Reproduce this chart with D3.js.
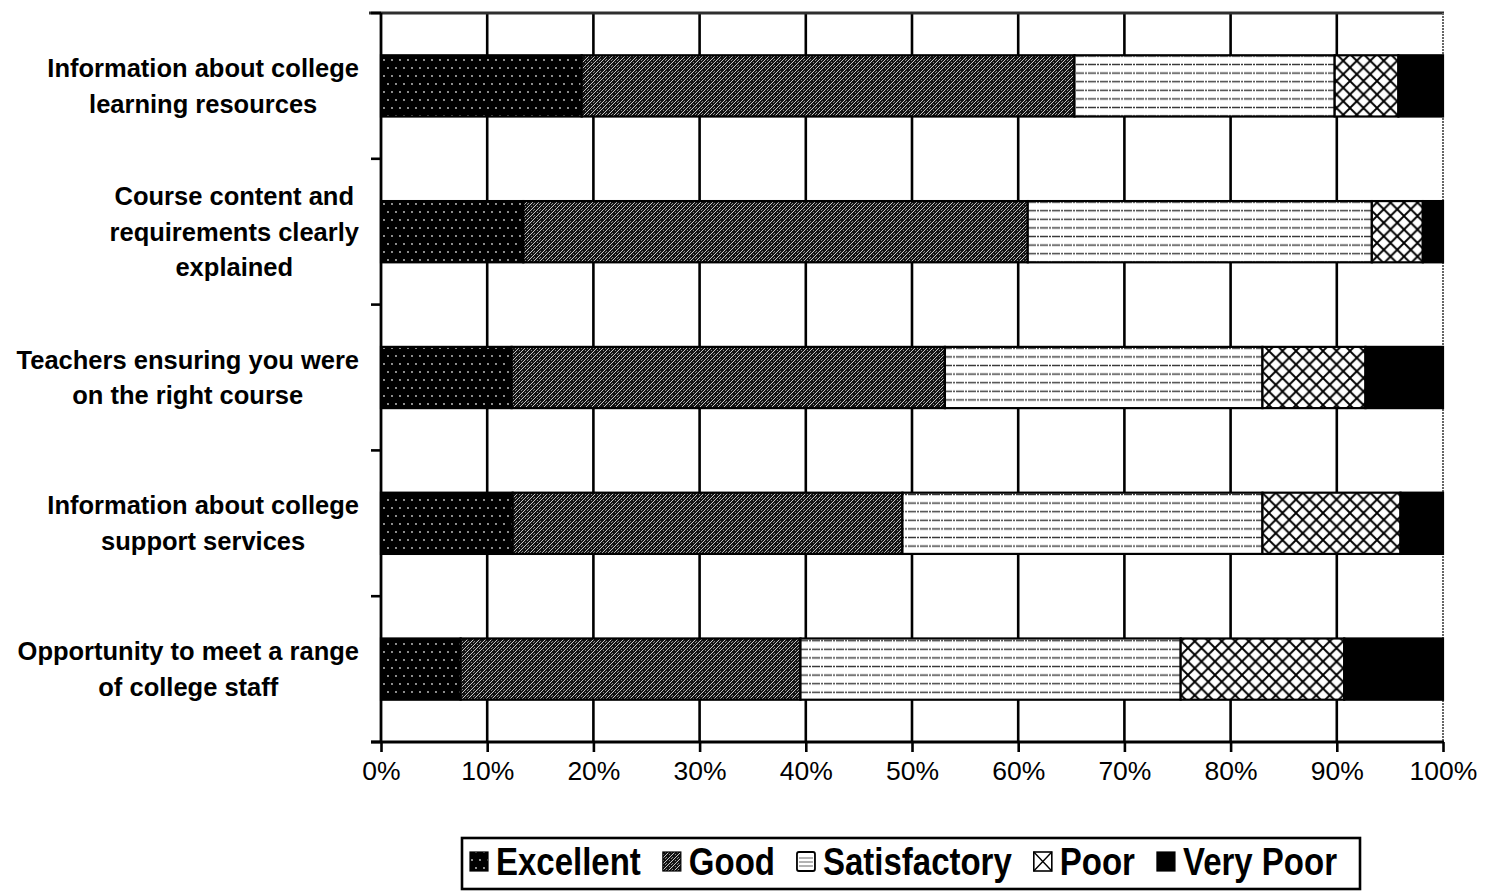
<!DOCTYPE html>
<html>
<head>
<meta charset="utf-8">
<script src="https://cdn.jsdelivr.net/npm/d3@7/dist/d3.min.js"></script>
<style>
  html, body { margin: 0; padding: 0; background: #fff; }
  svg { display: block; }
  text { font-family: "Liberation Sans", Arial, sans-serif; fill: #000; }
</style>
</head>
<body>
<svg id="chart" width="1488" height="892"></svg>
<script>
// Survey items, top to bottom
const categories = [
  "Information about college learning resources",
  "Course content and requirements clearly explained",
  "Teachers ensuring you were on the right course",
  "Information about college support services",
  "Opportunity to meet a range of college staff"
];
const categoryLines = [
  ["Information about college", "learning resources"],
  ["Course content and", "requirements clearly", "explained"],
  ["Teachers ensuring you were", "on the right course"],
  ["Information about college", "support services"],
  ["Opportunity to meet a range", "of college staff"]
];
const ratings = ["Excellent", "Good", "Satisfactory", "Poor", "Very Poor"];

// Percentage of responses per rating, one value per item
const excellent    = [18.9, 13.4, 12.3, 12.4, 7.5];
const good         = [46.4, 47.5, 40.8, 36.7, 32.0];
const satisfactory = [24.5, 32.4, 29.9, 33.9, 35.8];
const poor         = [6.0, 4.8, 9.7, 13.0, 15.4];
const veryPoor     = [4.2, 1.9, 7.3, 4.0, 9.3];

const xTicks = [0, 10, 20, 30, 40, 50, 60, 70, 80, 90, 100];

const rows = categories.map((c, i) => ({
  category: c,
  "Excellent": excellent[i],
  "Good": good[i],
  "Satisfactory": satisfactory[i],
  "Poor": poor[i],
  "Very Poor": veryPoor[i]
}));

const svg = d3.select("#chart");
const plot = { left: 381, right: 1443, top: 13, bottom: 742 };

const x = d3.scaleLinear().domain([0, 100]).range([plot.left, plot.right]);
const y = d3.scaleBand().domain(categories).range([plot.top, plot.bottom])
  .paddingInner(0.58).paddingOuter(0.29);

// ---- fill patterns ----
const defs = svg.append("defs");

// Excellent: black with small white dots
const pExc = defs.append("pattern").attr("id", "pat-exc")
  .attr("patternUnits", "userSpaceOnUse").attr("width", 16).attr("height", 16);
pExc.append("rect").attr("width", 16).attr("height", 16).attr("fill", "#000");
[[4, 4], [12, 4], [0, 12], [8, 12], [16, 12]].forEach(([cx, cy]) =>
  pExc.append("circle").attr("cx", cx).attr("cy", cy).attr("r", 0.9).attr("fill", "#cfcfcf"));

// Good: fine dark diagonal dither
const pGood = defs.append("pattern").attr("id", "pat-good")
  .attr("patternUnits", "userSpaceOnUse").attr("width", 6).attr("height", 6);
pGood.append("rect").attr("width", 6).attr("height", 6).attr("fill", "#141414");
[[0, 2], [1, 1], [2, 0], [3, 5], [4, 4], [5, 3], [0, 5], [3, 2], [5, 0]].forEach(([px, py], k) =>
  pGood.append("rect").attr("x", px).attr("y", py).attr("width", 1).attr("height", 1)
    .attr("fill", k < 6 ? "#c8c8c8" : "#8a8a8a"));

// Satisfactory: white with thin broken horizontal lines
const pSat = defs.append("pattern").attr("id", "pat-sat")
  .attr("patternUnits", "userSpaceOnUse").attr("width", 12).attr("height", 8.6);
pSat.append("rect").attr("width", 12).attr("height", 8.6).attr("fill", "#fff");
pSat.append("line").attr("x1", 0).attr("x2", 12).attr("y1", 4.3).attr("y2", 4.3)
  .attr("stroke", "#3a3a3a").attr("stroke-width", 1.2).attr("stroke-dasharray", "4 1 2 1");

// Poor: diamond crosshatch
const cw = 13.5;
const pPoor = defs.append("pattern").attr("id", "pat-poor")
  .attr("patternUnits", "userSpaceOnUse").attr("width", cw).attr("height", cw);
pPoor.append("rect").attr("width", cw).attr("height", cw).attr("fill", "#fff");
pPoor.append("line").attr("x1", -1).attr("y1", -1).attr("x2", cw + 1).attr("y2", cw + 1)
  .attr("stroke", "#000").attr("stroke-width", 1.9);
pPoor.append("line").attr("x1", cw + 1).attr("y1", -1).attr("x2", -1).attr("y2", cw + 1)
  .attr("stroke", "#000").attr("stroke-width", 1.9);

const fills = {
  "Excellent": "url(#pat-exc)",
  "Good": "url(#pat-good)",
  "Satisfactory": "url(#pat-sat)",
  "Poor": "url(#pat-poor)",
  "Very Poor": "#000"
};

// ---- grid and frame ----
const grid = svg.append("g");
grid.selectAll("line.grid")
  .data(xTicks.filter(t => t > 0 && t < 100))
  .join("line")
  .attr("x1", d => x(d)).attr("x2", d => x(d))
  .attr("y1", plot.top).attr("y2", plot.bottom)
  .attr("stroke", "#000").attr("stroke-width", 2.6);

// top and right plot-area border
grid.append("line")
  .attr("x1", plot.left - 12).attr("x2", plot.right + 1)
  .attr("y1", plot.top).attr("y2", plot.top)
  .attr("stroke", "#2e2e2e").attr("stroke-width", 3);
grid.append("line")
  .attr("x1", plot.right).attr("x2", plot.right)
  .attr("y1", plot.top).attr("y2", plot.bottom)
  .attr("stroke", "#666").attr("stroke-width", 2).attr("stroke-dasharray", "2 1");

// ---- stacked bars ----
const stack = d3.stack().keys(ratings);
const series = stack(rows);

svg.append("g").selectAll("g")
  .data(series)
  .join("g")
  .attr("fill", d => fills[d.key])
  .selectAll("rect")
  .data(d => d)
  .join("rect")
  .attr("x", d => x(d[0]))
  .attr("width", d => x(d[1]) - x(d[0]))
  .attr("y", d => y(d.data.category))
  .attr("height", y.bandwidth())
  .attr("stroke", "#000")
  .attr("stroke-width", 2.2);

// ---- axes ----
const xAxis = svg.append("g")
  .attr("transform", `translate(0,${plot.bottom})`)
  .call(d3.axisBottom(x).tickValues(xTicks).tickSize(10).tickSizeOuter(0)
    .tickFormat(d => d + "%"));
xAxis.select(".domain").remove();
xAxis.selectAll(".tick line").attr("stroke", "#000").attr("stroke-width", 2.6);
xAxis.selectAll(".tick text")
  .attr("y", 38).attr("dy", 0)
  .style("font-size", "26.5px").style("font-family", "'Liberation Sans', Arial, sans-serif")
  .attr("fill", "#000");

svg.append("line")
  .attr("x1", plot.left - 10).attr("x2", plot.right + 1)
  .attr("y1", plot.bottom).attr("y2", plot.bottom)
  .attr("stroke", "#000").attr("stroke-width", 2.8);

// left axis with ticks on category boundaries
const step = y.step();
const boundaries = d3.range(categories.length + 1).map(i => plot.top + i * step);
svg.append("line")
  .attr("x1", plot.left).attr("x2", plot.left)
  .attr("y1", plot.top).attr("y2", plot.bottom)
  .attr("stroke", "#000").attr("stroke-width", 2.8);
svg.append("g").selectAll("line")
  .data(boundaries)
  .join("line")
  .attr("x1", plot.left - 10).attr("x2", plot.left)
  .attr("y1", d => d).attr("y2", d => d)
  .attr("stroke", "#000").attr("stroke-width", 2.6);

// category labels: block right-aligned, lines centred within block
const lineH = 35.5;
const labelRight = 359;
const labels = svg.append("g").style("font-size", "25.5px").style("font-weight", "bold");
categories.forEach((c, i) => {
  const lines = categoryLines[i];
  const cy = y(c) + y.bandwidth() / 2;
  const g = labels.append("g");
  const texts = lines.map((ln, j) =>
    g.append("text")
      .attr("y", cy + (j - (lines.length - 1) / 2) * lineH)
      .attr("dy", "0.35em")
      .attr("text-anchor", "middle")
      .text(ln));
  const maxW = d3.max(texts, t => t.node().getComputedTextLength());
  texts.forEach(t => t.attr("x", labelRight - maxW / 2));
});

// ---- legend ----
const legendBox = { x: 462, y: 838, w: 898, h: 51 };
const legend = svg.append("g");
legend.append("rect")
  .attr("x", legendBox.x).attr("y", legendBox.y)
  .attr("width", legendBox.w).attr("height", legendBox.h)
  .attr("fill", "#fff").attr("stroke", "#000").attr("stroke-width", 2.6);

let lx = 470;
const iconW = 18, iconH = 19, iconY = 852, textBase = 875;
ratings.forEach(r => {
  const ic = legend.append("g");
  if (r === "Poor") {
    ic.append("rect").attr("x", lx).attr("y", iconY).attr("width", iconW).attr("height", iconH)
      .attr("fill", "#fff").attr("stroke", "#000").attr("stroke-width", 1.6);
    ic.append("path")
      .attr("d", `M${lx},${iconY}L${lx + iconW},${iconY + iconH}M${lx + iconW},${iconY}L${lx},${iconY + iconH}`)
      .attr("stroke", "#000").attr("stroke-width", 1.4);
  } else if (r === "Satisfactory") {
    ic.append("rect").attr("x", lx).attr("y", iconY).attr("width", iconW).attr("height", iconH)
      .attr("fill", "#fff").attr("stroke", "#000").attr("stroke-width", 1.8).attr("rx", 2);
    [6, 10, 14].forEach(dy =>
      ic.append("line").attr("x1", lx + 2).attr("x2", lx + iconW - 2)
        .attr("y1", iconY + dy).attr("y2", iconY + dy)
        .attr("stroke", "#666").attr("stroke-width", 1));
  } else {
    ic.append("rect").attr("x", lx).attr("y", iconY).attr("width", iconW).attr("height", iconH)
      .attr("fill", fills[r]).attr("stroke", "#000").attr("stroke-width", 1.2);
  }
  lx += iconW + 8;
  const t = legend.append("text")
    .attr("transform", `translate(${lx},${textBase}) scale(1,1.15)`)
    .style("font-size", "33px").style("font-weight", "bold")
    .text(r);
  lx += t.node().getComputedTextLength() + 22;
});
</script>
</body>
</html>
